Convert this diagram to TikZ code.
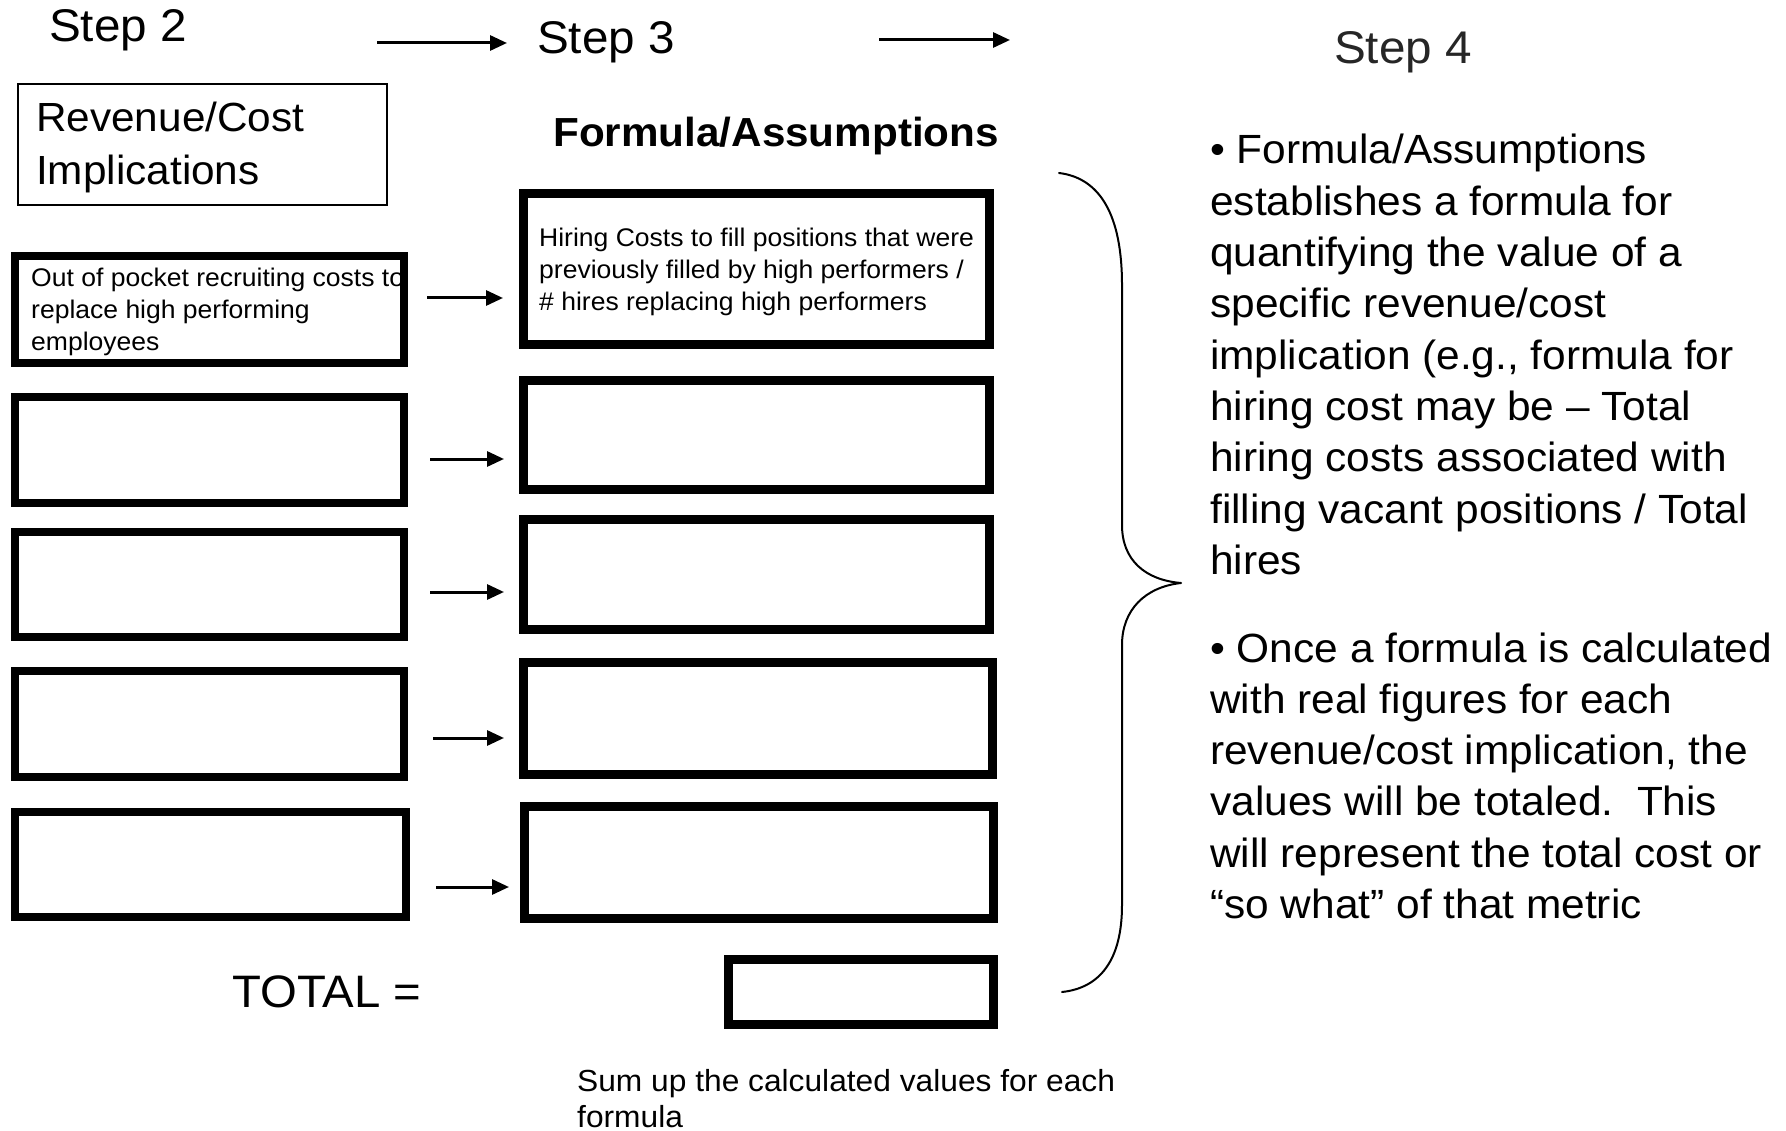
\documentclass[tikz,border=0pt]{standalone}
\usepackage{fontspec}
\setmainfont{Liberation Sans}[FakeStretch=1.04]
\usetikzlibrary{arrows.meta}

\tikzset{
  heavybox/.style={draw=black, line width=9pt, inner sep=0pt, fill=white},
  midbox/.style={draw=black, line width=8pt, inner sep=0pt, fill=white},
  thinbox/.style={draw=black, line width=2pt, inner sep=0pt},
  flowarrow/.style={line width=3pt, -{Triangle[length=17pt,width=15pt]}},
  steptext/.style={anchor=base west, inner sep=0pt, font=\fontsize{45.8}{54}\selectfont},
  headtext/.style={anchor=base west, inner sep=0pt, font=\fontsize{40.7}{48}\selectfont},
  boxtext/.style={anchor=base west, inner sep=0pt, font=\fontsize{25.5}{30}\selectfont},
  notetext/.style={anchor=base west, inner sep=0pt, font=\fontsize{40.8}{48}\selectfont},
  sumtext/.style={anchor=base west, inner sep=0pt, font=\fontsize{30.5}{36}\selectfont},
  bracket/.style={line width=2pt, line cap=round, line join=round},
}

\begin{document}
\begin{tikzpicture}[x=1pt, y=-1pt]
\useasboundingbox[fill=white] (0,0) rectangle (1786,1131);

% step headings and the arrows between them
\node[steptext] (step2) at (49,42) {Step 2};
\node[steptext] (step3) at (537,54) {Step 3};
\node[steptext, text=black!85] (step4) at (1334,64) {Step 4};
\coordinate (s23a) at (377,43);
\coordinate (s23b) at (507,43);
\coordinate (s34a) at (879,40);
\coordinate (s34b) at (1010,40);
\draw[flowarrow] (s23a) -- (s23b);
\draw[flowarrow] (s34a) -- (s34b);

% column headings
\node[thinbox, minimum width=369pt, minimum height=121pt] (revhead) at (202.5,144.5) {};
\node[headtext] (revhead1) at (36,132) {Revenue/Cost};
\node[headtext] (revhead2) at (36,185) {Implications};
\node[headtext, font=\fontsize{40.6}{48}\selectfont\bfseries] (formhead) at (553,147) {Formula/Assumptions};

% left column: revenue/cost implications
\node[midbox, minimum width=389pt, minimum height=107pt] (l1) at (209.5,309.5) {};
\node[midbox, minimum width=389pt, minimum height=106pt] (l2) at (209.5,450) {};
\node[midbox, minimum width=389pt, minimum height=105pt] (l3) at (209.5,584.5) {};
\node[midbox, minimum width=389pt, minimum height=106pt] (l4) at (209.5,724) {};
\node[midbox, minimum width=391pt, minimum height=105pt] (l5) at (210.5,864.5) {};

% right column: formulas
\node[heavybox, minimum width=466pt, minimum height=151pt] (r1) at (756.5,269) {};
\node[heavybox, minimum width=466pt, minimum height=109pt] (r2) at (756.5,435) {};
\node[heavybox, minimum width=466pt, minimum height=110pt] (r3) at (756.5,574.5) {};
\node[heavybox, minimum width=469pt, minimum height=112pt] (r4) at (758,718.5) {};
\node[heavybox, minimum width=469pt, minimum height=112pt] (r5) at (759,862.5) {};
\node[heavybox, minimum width=265pt, minimum height=65pt] (tot) at (861,992) {};

% first row texts
\foreach \t [count=\i] in {Out of pocket recruiting costs to, replace high performing, employees}
  \node[boxtext] (l1t\i) at (31,287+32*\i-32) {\t};
\foreach \t [count=\i] in {Hiring Costs to fill positions that were, previously filled by high performers /, \# hires replacing high performers}
  \node[boxtext] (r1t\i) at (539,247+32*\i-32) {\t};

% arrows from each implication to its formula
\foreach \ya/\xa/\xb [count=\i] in {298/427/503, 459/430/504, 592/430/504, 738/433/504, 887/436/509}{
  \coordinate (ra\i) at (\xa,\ya);
  \coordinate (rb\i) at (\xb,\ya);
  \draw[flowarrow] (ra\i) -- (rb\i);
}

% total line
\node[steptext, font=\fontsize{45.5}{54}\selectfont] (total) at (232,1007) {TOTAL =};
\node[sumtext] (sum1) at (577,1091) {Sum up the calculated values for each};
\node[sumtext] (sum2) at (577,1127) {formula};

% brace grouping the formulas
\coordinate (bt) at (1059,173);
\coordinate (bm) at (1181,583);
\coordinate (bb) at (1062,992);
\draw[bracket] (bt) .. controls (1100,178) and (1122,215) .. (1122,285)
  -- (1122,525) .. controls (1122,560) and (1145,580) .. (bm)
  .. controls (1145,587) and (1122,610) .. (1122,645)
  -- (1122,905) .. controls (1122,960) and (1100,988) .. (bb);

% explanatory notes
\foreach \t [count=\i] in {• Formula/Assumptions, establishes a formula for, quantifying the value of a, specific revenue/cost, {implication (e.g., formula for}, hiring cost may be – Total, hiring costs associated with, filling vacant positions / Total, hires}
  \node[notetext] (na\i) at (1210,164+51.3*\i-51.3) {\t};
\foreach \t [count=\i] in {• Once a formula is calculated, with real figures for each, {revenue/cost implication, the}, values will be totaled.\ \ This, will represent the total cost or, “so what” of that metric}
  \node[notetext] (nb\i) at (1210,662+51.3*\i-51.3) {\t};
\end{tikzpicture}
\end{document}
